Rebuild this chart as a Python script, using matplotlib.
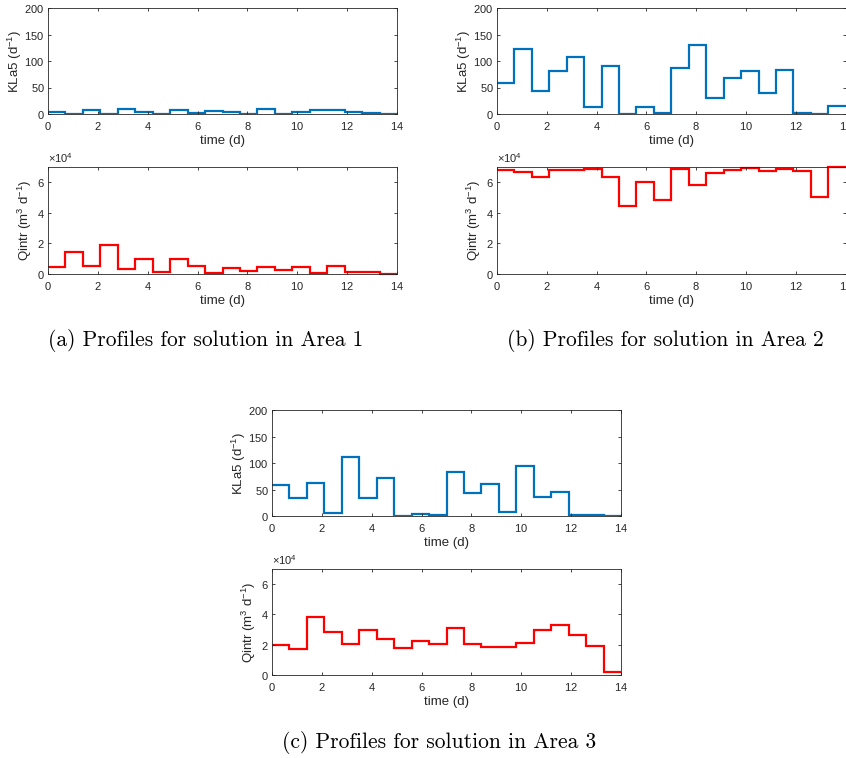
import matplotlib
matplotlib.use("Agg")
import matplotlib.pyplot as plt
import numpy as np
from matplotlib.ticker import ScalarFormatter

# ---- data ----
time_edges = [0.0, 0.7, 1.4, 2.1, 2.8, 3.5, 4.2, 4.9, 5.6, 6.3, 7.0,
              7.7, 8.4, 9.1, 9.8, 10.5, 11.2, 11.9, 12.6, 13.3, 14.0]

kla5_area1 = [3, 0, 8, 0, 10, 3, 0.5, 8, 2, 5, 4, 0, 9, 0, 4, 7, 7, 3, 1, 0]
qintr_area1 = [0.44, 1.46, 0.55, 1.88, 0.33, 1.0, 0.15, 1.0, 0.55, 0.09,
               0.4, 0.2, 0.44, 0.24, 0.44, 0.09, 0.5, 0.13, 0.1, 0.02]

kla5_area2 = [59, 122, 43, 81, 108, 14, 90, 0, 13, 2.5, 87, 130, 31, 67, 82,
              39, 83, 1, 0, 15]
qintr_area2 = [6.79, 6.68, 6.33, 6.79, 6.79, 6.86, 6.35, 4.48, 6.04, 4.81,
               6.86, 5.80, 6.64, 6.79, 6.92, 6.73, 6.90, 6.77, 5.03, 6.99]

kla5_area3 = [58.5, 34.6, 61.6, 5.7, 110.7, 34.6, 71.7, 0.6, 3.8, 2.5, 83.6,
              43.4, 61, 7.5, 93.7, 36.5, 45.9, 1.9, 1.9, 0]
qintr_area3 = [2.0, 1.69, 3.82, 2.84, 2.04, 2.99, 2.35, 1.78, 2.26, 2.07,
               3.08, 2.02, 1.82, 1.85, 2.13, 2.99, 3.32, 2.62, 1.93, 0.2]

captions = ["(a) Profiles for solution in Area 1",
            "(b) Profiles for solution in Area 2",
            "(c) Profiles for solution in Area 3"]

kla_ticks = [0, 50, 100, 150, 200]
q_ticks = [0, 2e4, 4e4, 6e4]
x_ticks = [0, 2, 4, 6, 8, 10, 12, 14]

# ---- style ----
plt.rcParams['font.family'] = ['Liberation Sans', 'DejaVu Sans']
plt.rcParams['mathtext.default'] = 'regular'
plt.rcParams['axes.formatter.use_mathtext'] = True

W, H = 846, 758
fig = plt.figure(figsize=(W / 100, H / 100), dpi=100)

BLUE = '#0072BD'
RED = '#FF0000'
AXC = '#262626'
FS = 8
LFS = 9.5


def rect(left, top, right, bottom):
    return [left / W, 1 - bottom / H, (right - left) / W, (bottom - top) / H]


def style(ax):
    for s in ax.spines.values():
        s.set_color(AXC)
        s.set_linewidth(0.6)
    ax.tick_params(direction='in', top=True, right=True, length=2.5,
                   width=0.6, colors=AXC, labelsize=FS)
    ax.tick_params(axis='x', pad=4)
    ax.tick_params(axis='y', pad=2.5)
    ax.set_xlim(0, 14)
    ax.set_xticks(x_ticks)
    ax.set_xlabel('time (d)', fontsize=LFS, color=AXC, labelpad=2.5)


def kla_axes(r, vals):
    ax = fig.add_axes(r)
    ax.stairs(vals, time_edges, baseline=None, color=BLUE, linewidth=1.6)
    style(ax)
    ax.set_ylim(0, 200)
    ax.set_yticks(kla_ticks)
    ax.set_ylabel('KLa5 (d$^{-1}$)', fontsize=LFS, color=AXC, labelpad=0)
    return ax


def q_axes(r, vals):
    ax = fig.add_axes(r)
    ax.stairs([v * 1e4 for v in vals], time_edges, baseline=None,
              color=RED, linewidth=1.6, clip_on=False)
    style(ax)
    ax.set_ylim(0, 7e4)
    ax.set_yticks(q_ticks)
    fmt = ScalarFormatter(useMathText=True)
    fmt.set_powerlimits((0, 0))
    ax.yaxis.set_major_formatter(fmt)
    ax.yaxis.get_offset_text().set_fontsize(FS)
    ax.yaxis.get_offset_text().set_color(AXC)
    ax.set_ylabel('Qintr (m$^{3}$ d$^{-1}$)', fontsize=LFS, color=AXC,
                  labelpad=2)
    return ax


kla_axes(rect(48, 8, 397, 114), kla5_area1)
q_axes(rect(48, 167, 397, 274), qintr_area1)
kla_axes(rect(497, 8, 845.7, 114), kla5_area2)
q_axes(rect(497, 167, 845.7, 274), qintr_area2)
kla_axes(rect(272, 410, 621, 516), kla5_area3)
q_axes(rect(272, 569, 621, 675), qintr_area3)

cap_font = dict(fontsize=15.5, family=['cmr10', 'DejaVu Serif'], ha='center',
                va='center', color='black')
fig.text(206 / W, 1 - 340 / H, captions[0], **cap_font)
fig.text(665 / W, 1 - 340 / H, captions[1], **cap_font)
fig.text(439 / W, 1 - 742 / H, captions[2], **cap_font)

fig.savefig('out.png', dpi=100)
